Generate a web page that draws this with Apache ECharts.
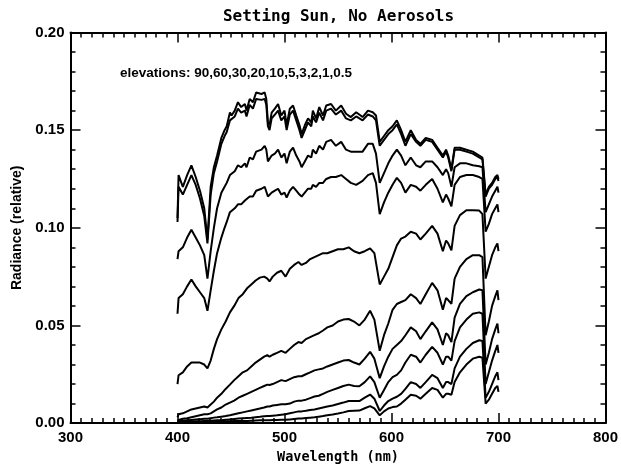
<!DOCTYPE html>
<html>
<head>
<meta charset="utf-8">
<script src="https://cdn.jsdelivr.net/npm/echarts@6/dist/echarts.min.js"></script>
<style>
  html, body { margin: 0; padding: 0; background: #fff; }
  #chart { width: 621px; height: 469px; }
</style>
</head>
<body>
<div id="chart"></div>
<script>
// Solar elevation angles (degrees), one spectrum each
const elevations = [90, 60, 30, 20, 10, 5, 3, 2, 1, 0.5];

// Wavelength grid (nm) for the high-sun spectra (finer sampling through the blue-green)
const wlBright = [
  400, 401, 405, 409, 413, 417, 421, 425, 428, 431, 434, 437,
  441, 444, 446, 449, 450.5, 453.5, 456.5, 459.5, 463, 464.5, 467.5, 470.5, 473.5, 475, 478.5, 481.5, 483, 484.5,
  486, 488, 491, 494, 497, 500, 502, 505, 508, 511, 514, 516, 519, 522, 525, 526.5, 529.5, 532.5, 536, 539,
  543.5, 548, 553, 557.5, 562, 567, 573, 578, 582.5, 585.5, 589,
  593, 597, 601, 605, 609, 613, 618, 623, 627, 632, 638, 643, 648, 651, 653, 656, 659, 664, 670, 676,
  682, 685, 688, 691, 694, 697, 699, 700
];

// Wavelength grid (nm) for the low-sun spectra
const wlDim = [
  400, 401, 405, 409, 413, 417, 421, 425, 428, 431, 434, 437, 441, 445, 449, 453, 457, 461, 465, 469,
  473, 477, 481, 484, 486, 489, 493, 497, 501, 505, 509, 513, 516, 520, 524, 528, 532, 536, 540, 545,
  550, 555, 560, 565, 570, 575, 580, 584, 589, 593, 597, 601, 605, 609, 613, 618, 623, 627, 632, 638,
  643, 648, 651, 653, 656, 659, 664, 670, 676, 682, 685, 688, 691, 694, 697, 699, 700
];

const rad90 = [
  0.105, 0.127, 0.121, 0.127, 0.132, 0.126, 0.119, 0.110, 0.094, 0.121, 0.131, 0.137,
  0.146, 0.150, 0.152, 0.159, 0.1575, 0.160, 0.1643, 0.1618, 0.1634, 0.160, 0.166, 0.1643, 0.1693, 0.170, 0.1685, 0.1693, 0.166, 0.154,
  0.1525, 0.159, 0.161, 0.1634, 0.1575, 0.160, 0.1525, 0.161, 0.1626, 0.1575, 0.1525, 0.148, 0.1525, 0.156, 0.154, 0.160, 0.156, 0.1618, 0.1575, 0.1626,
  0.1634, 0.160, 0.1626, 0.1584, 0.1567, 0.1592, 0.1567, 0.160, 0.1592, 0.1575, 0.144,
  0.147, 0.150, 0.152, 0.155, 0.150, 0.144, 0.150, 0.145, 0.143, 0.146, 0.145, 0.141, 0.137, 0.140, 0.137, 0.130, 0.141, 0.141, 0.140, 0.139,
  0.137, 0.136, 0.117, 0.121, 0.123, 0.126, 0.127, 0.125
];
const rad60 = [
  0.103, 0.121, 0.117, 0.122, 0.127, 0.122, 0.115, 0.106, 0.092, 0.117, 0.128, 0.134,
  0.143, 0.147, 0.149, 0.155, 0.154, 0.157, 0.161, 0.159, 0.160, 0.157, 0.163, 0.161, 0.166, 0.167, 0.1655, 0.166, 0.163, 0.152,
  0.150, 0.156, 0.158, 0.160, 0.155, 0.157, 0.150, 0.158, 0.160, 0.155, 0.150, 0.146, 0.150, 0.154, 0.152, 0.157, 0.154, 0.159, 0.155, 0.160,
  0.161, 0.158, 0.160, 0.156, 0.155, 0.157, 0.155, 0.158, 0.157, 0.155, 0.142,
  0.145, 0.148, 0.150, 0.153, 0.148, 0.142, 0.148, 0.144, 0.142, 0.145, 0.144, 0.140, 0.136, 0.139, 0.136, 0.129, 0.140, 0.140, 0.139, 0.138,
  0.136, 0.135, 0.116, 0.120, 0.122, 0.125, 0.126, 0.124
];
const rad30 = [
  0.084, 0.088, 0.090, 0.095, 0.099, 0.095, 0.091, 0.086, 0.074, 0.088, 0.100, 0.110,
  0.118, 0.121, 0.123, 0.127, 0.126, 0.129, 0.132, 0.131, 0.133, 0.131, 0.136, 0.135, 0.139, 0.140, 0.140, 0.142, 0.140, 0.134,
  0.133, 0.137, 0.138, 0.140, 0.136, 0.138, 0.133, 0.139, 0.141, 0.137, 0.134, 0.131, 0.134, 0.137, 0.136, 0.140, 0.138, 0.142, 0.140, 0.144,
  0.145, 0.142, 0.144, 0.140, 0.139, 0.139, 0.139, 0.143, 0.143, 0.138, 0.123,
  0.128, 0.133, 0.137, 0.140, 0.137, 0.132, 0.136, 0.132, 0.131, 0.134, 0.134, 0.131, 0.127, 0.130, 0.128, 0.121, 0.131, 0.133, 0.133, 0.132,
  0.1315, 0.131, 0.108, 0.112, 0.116, 0.119, 0.121, 0.118
];
const rad20 = [
  0.056, 0.064, 0.066, 0.070, 0.0735, 0.070, 0.067, 0.064, 0.0575, 0.068, 0.078, 0.087,
  0.095, 0.100, 0.103, 0.108, 0.108, 0.110, 0.112, 0.112, 0.114, 0.113, 0.116, 0.116, 0.119, 0.120, 0.120, 0.121, 0.120, 0.116,
  0.115, 0.118, 0.119, 0.120, 0.117, 0.118, 0.1155, 0.119, 0.121, 0.119, 0.117, 0.116, 0.118, 0.120, 0.120, 0.122, 0.121, 0.123, 0.123, 0.125,
  0.126, 0.126, 0.127, 0.125, 0.123, 0.122, 0.124, 0.127, 0.128, 0.123, 0.107,
  0.113, 0.118, 0.122, 0.1256, 0.123, 0.118, 0.122, 0.121, 0.119, 0.122, 0.125, 0.120, 0.113, 0.117, 0.115, 0.111, 0.122, 0.126, 0.127, 0.127,
  0.126, 0.125, 0.098, 0.102, 0.107, 0.110, 0.112, 0.108
];
const rad10 = [
  0.020, 0.0245, 0.026, 0.029, 0.031, 0.031, 0.031, 0.030, 0.028, 0.032, 0.038, 0.043, 0.048, 0.052, 0.0567, 0.060, 0.064, 0.066, 0.069, 0.071,
  0.073, 0.0745, 0.075, 0.074, 0.0725, 0.075, 0.077, 0.078, 0.075, 0.079, 0.081, 0.0825, 0.081, 0.082, 0.084, 0.085, 0.086, 0.087, 0.087, 0.088,
  0.089, 0.089, 0.090, 0.088, 0.087, 0.088, 0.0895, 0.087, 0.071, 0.075, 0.079, 0.085, 0.091, 0.0945, 0.0955, 0.098, 0.097, 0.094, 0.097, 0.101,
  0.097, 0.088, 0.0935, 0.092, 0.0885, 0.101, 0.1065, 0.109, 0.109, 0.1088, 0.107, 0.074, 0.080, 0.086, 0.090, 0.092, 0.088
];
const rad5 = [
  0.003, 0.0045, 0.005, 0.006, 0.007, 0.0075, 0.008, 0.0085, 0.008, 0.0095, 0.011, 0.013, 0.015, 0.0175, 0.0197, 0.022, 0.024, 0.026, 0.027, 0.029,
  0.031, 0.0325, 0.034, 0.0348, 0.034, 0.035, 0.036, 0.037, 0.036, 0.038, 0.040, 0.0415, 0.041, 0.043, 0.044, 0.045, 0.046, 0.0474, 0.049, 0.050,
  0.052, 0.053, 0.0533, 0.052, 0.050, 0.053, 0.0575, 0.053, 0.037, 0.045, 0.051, 0.058, 0.061, 0.062, 0.063, 0.066, 0.064, 0.061, 0.066, 0.0718,
  0.068, 0.058, 0.064, 0.063, 0.061, 0.074, 0.080, 0.084, 0.086, 0.086, 0.085, 0.045, 0.052, 0.060, 0.065, 0.068, 0.063
];
const rad3 = [
  0.0015, 0.002, 0.0022, 0.0025, 0.003, 0.0035, 0.004, 0.0045, 0.0045, 0.005, 0.006, 0.007, 0.008, 0.0095, 0.0105, 0.0115, 0.013, 0.014, 0.015, 0.016,
  0.017, 0.018, 0.019, 0.0197, 0.0195, 0.020, 0.021, 0.022, 0.0215, 0.0225, 0.0235, 0.024, 0.024, 0.025, 0.026, 0.027, 0.0275, 0.028, 0.029, 0.030,
  0.031, 0.032, 0.0323, 0.031, 0.030, 0.033, 0.0365, 0.033, 0.023, 0.029, 0.034, 0.038, 0.040, 0.042, 0.045, 0.049, 0.047, 0.043, 0.047, 0.0516,
  0.048, 0.040, 0.046, 0.045, 0.0415, 0.054, 0.061, 0.065, 0.067, 0.0684, 0.068, 0.030, 0.036, 0.043, 0.048, 0.051, 0.046
];
const rad2 = [
  0.001, 0.001, 0.0012, 0.0014, 0.0016, 0.0018, 0.002, 0.0022, 0.0022, 0.0025, 0.0028, 0.003, 0.0033, 0.0036, 0.004, 0.0045, 0.005, 0.0055, 0.006, 0.0065,
  0.007, 0.0075, 0.008, 0.0085, 0.0085, 0.009, 0.0093, 0.0096, 0.0096, 0.010, 0.011, 0.0115, 0.0115, 0.012, 0.0128, 0.0136, 0.014, 0.015, 0.016, 0.017,
  0.018, 0.019, 0.0197, 0.019, 0.0189, 0.021, 0.0239, 0.021, 0.013, 0.017, 0.021, 0.0235, 0.0247, 0.027, 0.031, 0.035, 0.034, 0.031, 0.035, 0.039,
  0.036, 0.030, 0.034, 0.034, 0.032, 0.042, 0.049, 0.053, 0.056, 0.0567, 0.056, 0.020, 0.026, 0.032, 0.037, 0.040, 0.036
];
const rad1 = [
  0.0005, 0.0005, 0.0006, 0.0007, 0.0008, 0.0009, 0.001, 0.0011, 0.0011, 0.0012, 0.0013, 0.0014, 0.0015, 0.0017, 0.0019, 0.0021, 0.0023, 0.0025, 0.0026, 0.0027,
  0.003, 0.0032, 0.0035, 0.0036, 0.0036, 0.0038, 0.004, 0.0043, 0.0045, 0.005, 0.0055, 0.006, 0.006, 0.0063, 0.0067, 0.007, 0.0075, 0.008, 0.0085, 0.009,
  0.0098, 0.0105, 0.0113, 0.0113, 0.0113, 0.013, 0.0146, 0.0125, 0.0062, 0.009, 0.0113, 0.0125, 0.0135, 0.015, 0.0175, 0.021, 0.020, 0.018, 0.021, 0.0247,
  0.023, 0.018, 0.021, 0.021, 0.020, 0.028, 0.034, 0.038, 0.041, 0.0424, 0.042, 0.013, 0.016, 0.020, 0.024, 0.026, 0.022
];
const rad05 = [
  0.0002, 0.0002, 0.0003, 0.0003, 0.0004, 0.0004, 0.0005, 0.0005, 0.0005, 0.0006, 0.0006, 0.0007, 0.0008, 0.0009, 0.001, 0.0011, 0.0011, 0.0011, 0.0011, 0.0012,
  0.0013, 0.0014, 0.0015, 0.0015, 0.0015, 0.0016, 0.0016, 0.0017, 0.0017, 0.0019, 0.0021, 0.0023, 0.0024, 0.0026, 0.0028, 0.003, 0.0033, 0.0036, 0.004, 0.0044,
  0.0049, 0.0055, 0.0062, 0.0063, 0.0064, 0.0076, 0.0087, 0.0075, 0.004, 0.006, 0.0075, 0.0082, 0.0085, 0.010, 0.012, 0.0145, 0.014, 0.0125, 0.015, 0.018,
  0.017, 0.013, 0.015, 0.015, 0.0145, 0.021, 0.026, 0.030, 0.033, 0.034, 0.0335, 0.010, 0.012, 0.015, 0.018, 0.019, 0.016
];

const spectra = [rad90, rad60, rad30, rad20, rad10, rad5, rad3, rad2, rad1, rad05];
const grids = [wlBright, wlBright, wlBright, wlBright, wlDim, wlDim, wlDim, wlDim, wlDim, wlDim];

const xTicks = [300, 400, 500, 600, 700, 800];
const yTicks = [0.00, 0.05, 0.10, 0.15, 0.20];

const ink = '#000';
const labelFont = { color: ink, fontFamily: 'Liberation Sans, Arial, sans-serif', fontWeight: 'bold', fontSize: 15 };

// plot box in pixels
const box = { left: 70.5, right: 14.5, top: 32.5, bottom: 40 };
const boxCenterX = box.left + (621 - box.left - box.right) / 2;

function xAxisDef(pos, showLabels) {
  return {
    type: 'value', position: pos, min: xTicks[0], max: xTicks[xTicks.length - 1], interval: 100,
    axisLine: { show: true, onZero: false, lineStyle: { color: ink, width: 2 } },
    axisTick: { show: true, inside: true, length: 10, lineStyle: { color: ink, width: 1.5 } },
    minorTick: { show: true, splitNumber: 10, length: 5, lineStyle: { color: ink, width: 1.5 } },
    axisLabel: Object.assign({ show: showLabels, margin: 7 }, labelFont),
    splitLine: { show: false }
  };
}
function yAxisDef(pos, showLabels) {
  return {
    type: 'value', position: pos, min: yTicks[0], max: yTicks[yTicks.length - 1], interval: 0.05,
    axisLine: { show: true, onZero: false, lineStyle: { color: ink, width: 2 } },
    axisTick: { show: true, inside: true, length: 10, lineStyle: { color: ink, width: 1.5 } },
    minorTick: { show: true, splitNumber: 5, length: 5, lineStyle: { color: ink, width: 1.5 } },
    axisLabel: Object.assign({ show: showLabels, margin: 6, formatter: v => v.toFixed(2) }, labelFont),
    splitLine: { show: false }
  };
}

const bottomX = xAxisDef('bottom', true);
bottomX.name = 'Wavelength (nm)';
bottomX.nameLocation = 'middle';
bottomX.nameGap = 24;
bottomX.nameTextStyle = { color: ink, fontFamily: 'DejaVu Sans Mono, monospace', fontWeight: 'bold', fontSize: 13.5 };

const leftY = yAxisDef('left', true);
leftY.name = 'Radiance (relative)';
leftY.nameLocation = 'middle';
leftY.nameGap = 46;
leftY.nameTextStyle = { color: ink, fontFamily: 'Liberation Sans, Arial, sans-serif', fontWeight: 'bold', fontSize: 14 };

const chart = echarts.init(document.getElementById('chart'), null, { renderer: 'canvas' });
chart.setOption({
  animation: false,
  backgroundColor: '#fff',
  grid: box,
  xAxis: [bottomX, xAxisDef('top', false)],
  yAxis: [leftY, yAxisDef('right', false)],
  graphic: [
    {
      type: 'text', x: boxCenterX, y: 17,
      style: {
        text: 'Setting Sun, No Aerosols', fill: ink, align: 'center', verticalAlign: 'middle',
        font: 'bold 16px "DejaVu Sans Mono", monospace'
      }
    },
    {
      type: 'text', x: 120, y: 73,
      style: {
        text: 'elevations: ' + elevations.join(','), fill: ink, align: 'left', verticalAlign: 'middle',
        font: 'bold 13.5px "Liberation Sans", Arial, sans-serif'
      }
    }
  ],
  series: spectra.map((vals, i) => ({
    name: String(elevations[i]),
    type: 'line',
    xAxisIndex: 0, yAxisIndex: 0,
    showSymbol: false, symbol: 'none',
    lineStyle: { color: ink, width: 2 },
    data: grids[i].map((w, j) => [w, vals[j]])
  }))
});
</script>
</body>
</html>
